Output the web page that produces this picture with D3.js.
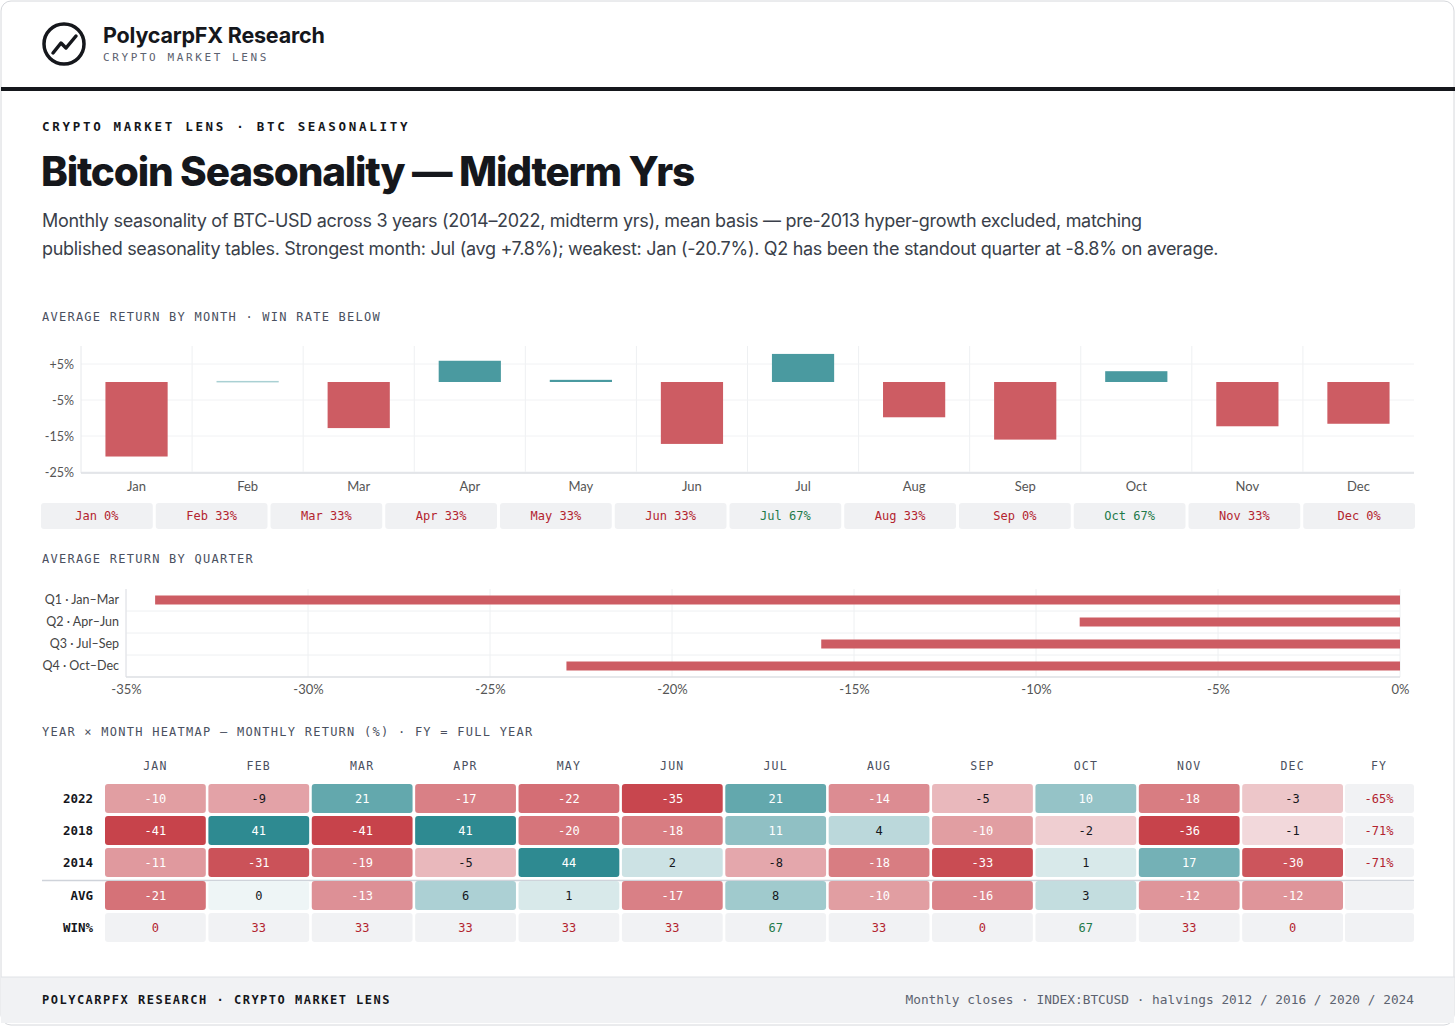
<!DOCTYPE html>
<html><head><meta charset="utf-8">
<script src="https://cdn.jsdelivr.net/npm/d3@7/dist/d3.min.js"></script>
<style>
body{margin:0;background:#fff;font-family:Inter,"Noto Sans",sans-serif;}
svg{display:block}
</style></head><body>
<svg id="c" width="1456" height="1028"></svg>
<script>
const months=["Jan","Feb","Mar","Apr","May","Jun","Jul","Aug","Sep","Oct","Nov","Dec"];
const avgReturn=[-20.7,0.3,-12.8,5.9,0.6,-17.2,7.8,-9.8,-16.0,3.0,-12.3,-11.6];
const winRate=[0,33,33,33,33,33,67,33,0,67,33,0];
const quarters=["Q1 · Jan–Mar","Q2 · Apr–Jun","Q3 · Jul–Sep","Q4 · Oct–Dec"];
const quarterReturn=[-34.2,-8.8,-15.9,-22.9];
const years=["2022","2018","2014"];
const heat2022=[-10,-9,21,-17,-22,-35,21,-14,-5,10,-18,-3];
const heat2018=[-41,41,-41,41,-20,-18,11,4,-10,-2,-36,-1];
const heat2014=[-11,-31,-19,-5,44,2,-8,-18,-33,1,17,-30];
const heatAvg=[-21,0,-13,6,1,-17,8,-10,-16,3,-12,-12];
const fullYear=["-65%","-71%","-71%"];
const yTicks=[5,-5,-15,-25];
const qTicks=[-35,-30,-25,-20,-15,-10,-5,0];

const svg=d3.select("#c");
const MONO='"DejaVu Sans Mono","Liberation Mono",monospace';
const RED="#cd5c63",TEAL="#4a9aa0";
svg.append("rect").attr("x",1).attr("y",1).attr("width",1453).attr("height",1024).attr("rx",10).attr("fill","#fff").attr("stroke","#d6d8dc");
svg.append("rect").attr("x",1).attr("y",977).attr("width",1453).attr("height",46).attr("fill","#f1f2f4");
svg.append("line").attr("x1",1).attr("x2",1455).attr("y1",977).attr("y2",977).attr("stroke","#e0e2e6");
svg.append("rect").attr("x",1).attr("y",87).attr("width",1454).attr("height",4).attr("fill","#15171c");
svg.append("circle").attr("cx",64).attr("cy",44).attr("r",20).attr("fill","none").attr("stroke","#15171c").attr("stroke-width",3.5);
svg.append("path").attr("d","M53,53 L61,43 L66,48 L76,36").attr("fill","none").attr("stroke","#15171c").attr("stroke-width",3.5).attr("stroke-linejoin","round").attr("stroke-linecap","round");
svg.append("text").attr("x",103).attr("y",43).attr("font-size",21.5).attr("font-weight",700).attr("fill","#15171c").attr("letter-spacing",-0.2).text("PolycarpFX Research");
svg.append("text").attr("x",103).attr("y",61).attr("font-family",MONO).attr("font-size",11).attr("letter-spacing",2.6).attr("fill","#5c6270").text("CRYPTO MARKET LENS");
svg.append("text").attr("x",42).attr("y",131).attr("font-family",MONO).attr("font-size",12.5).attr("font-weight",700).attr("letter-spacing",2.7).attr("fill","#15171c").text("CRYPTO MARKET LENS · BTC SEASONALITY");
svg.append("text").attr("x",41).attr("y",186).attr("font-size",40.5).attr("font-weight",800).attr("letter-spacing",-1.2).attr("fill","#15171c").text("Bitcoin Seasonality — Midterm Yrs");
svg.append("text").attr("x",42).attr("y",227).attr("font-size",18).attr("letter-spacing",-0.3).attr("fill","#3a3f4a").text("Monthly seasonality of BTC-USD across 3 years (2014–2022, midterm yrs), mean basis — pre-2013 hyper-growth excluded, matching");
svg.append("text").attr("x",42).attr("y",255).attr("font-size",18).attr("letter-spacing",-0.3).attr("fill","#3a3f4a").text("published seasonality tables. Strongest month: Jul (avg +7.8%); weakest: Jan (-20.7%). Q2 has been the standout quarter at -8.8% on average.");
function sec(y,t){svg.append("text").attr("x",42).attr("y",y).attr("font-family",MONO).attr("font-size",12).attr("letter-spacing",1.25).attr("fill","#4a5060").text(t);}
sec(321,"AVERAGE RETURN BY MONTH · WIN RATE BELOW");
sec(563,"AVERAGE RETURN BY QUARTER");
sec(736,"YEAR × MONTH HEATMAP — MONTHLY RETURN (%) · FY = FULL YEAR");

const x=d3.scaleBand().domain(months).range([81,1414]).paddingInner(0.44).paddingOuter(0.22);
const xc=d3.scaleBand().domain(months).range([81,1414]);
const y=d3.scaleLinear().domain([-25,10]).range([472,346]);
const g=svg.append("g");
months.forEach((m,i)=>{ if(i>0) g.append("line").attr("x1",xc(m)).attr("x2",xc(m)).attr("y1",346).attr("y2",472).attr("stroke","#eef0f2");});
yTicks.forEach(t=>g.append("line").attr("x1",81).attr("x2",1414).attr("y1",y(t)).attr("y2",y(t)).attr("stroke","#f1f2f4"));
g.append("line").attr("x1",81).attr("x2",81).attr("y1",346).attr("y2",473).attr("stroke","#e6e8eb");
g.append("line").attr("x1",81).attr("x2",1414).attr("y1",473).attr("y2",473).attr("stroke","#dcdfe3").attr("stroke-width",1.5);
g.selectAll("rect.b").data(months).join("rect").attr("x",m=>x(m)).attr("width",x.bandwidth())
 .attr("y",(m,i)=>Math.min(y(0),y(avgReturn[i]))).attr("height",(m,i)=>Math.max(1.5,Math.abs(y(avgReturn[i])-y(0))))
 .attr("fill",(m,i)=>avgReturn[i]>=0?(avgReturn[i]<0.5?"#a9d0d3":TEAL):RED);
const yAx=g.append("g").attr("transform","translate(77,0)").call(d3.axisLeft(y).tickValues(yTicks).tickSize(0).tickFormat(d=>(d>0?"+":"")+d+"%"));
yAx.select(".domain").remove();
yAx.selectAll("text").attr("font-family","Lato,Inter,sans-serif").attr("font-size",12.5).attr("fill","#555");
const xAx=g.append("g").attr("transform","translate(0,477)").call(d3.axisBottom(xc).tickSize(0));
xAx.select(".domain").remove();
xAx.selectAll("text").attr("font-family","Lato,Inter,sans-serif").attr("font-size",13).attr("fill","#555").attr("dy","0.85em");
const xp=d3.scaleBand().domain(months).range([41,1415]).paddingInner(0.026);
months.forEach((m,i)=>{
 svg.append("rect").attr("x",xp(m)).attr("y",503).attr("width",xp.bandwidth()).attr("height",26).attr("rx",3).attr("fill","#f0f1f3");
 svg.append("text").attr("x",xp(m)+xp.bandwidth()/2).attr("y",520).attr("text-anchor","middle").attr("font-family",MONO).attr("font-size",12)
  .attr("fill",winRate[i]>50?"#1f7a4a":"#b3242f").text(m+" "+winRate[i]+"%");
});

const xq=d3.scaleLinear().domain([-35,0]).range([126,1400]);
const yq=d3.scaleBand().domain(quarters).range([589,677]);
const gq=svg.append("g");
qTicks.forEach(t=>gq.append("line").attr("x1",xq(t)).attr("x2",xq(t)).attr("y1",589).attr("y2",677).attr("stroke","#eef0f2"));
quarters.forEach((q,i)=>{ if(i>0) gq.append("line").attr("x1",126).attr("x2",1400).attr("y1",yq(q)).attr("y2",yq(q)).attr("stroke","#eef0f2");});
gq.append("line").attr("x1",126).attr("x2",126).attr("y1",589).attr("y2",677).attr("stroke","#e0e2e6");
gq.append("line").attr("x1",126).attr("x2",1400).attr("y1",677).attr("y2",677).attr("stroke","#dcdfe3").attr("stroke-width",1.5);
gq.selectAll("rect").data(quarters).join("rect").attr("x",(q,i)=>xq(quarterReturn[i])).attr("width",(q,i)=>xq(0)-xq(quarterReturn[i]))
 .attr("y",q=>yq(q)+yq.bandwidth()/2-4.5).attr("height",9).attr("fill",RED);
const qa=gq.append("g").attr("transform","translate(122,0)").call(d3.axisLeft(yq).tickSize(0));
qa.select(".domain").remove();
qa.selectAll("text").attr("font-family","Lato,Inter,sans-serif").attr("font-size",12.5).attr("fill","#444");
const qx=gq.append("g").attr("transform","translate(0,681)").call(d3.axisBottom(xq).tickValues(qTicks).tickSize(0).tickFormat(d=>d+"%"));
qx.select(".domain").remove();
qx.selectAll("text").attr("font-family","Lato,Inter,sans-serif").attr("font-size",13).attr("fill","#555").attr("dy","0.8em");

const cols=months.map(m=>m.toUpperCase());
const xh=d3.scaleBand().domain(cols).range([105,1343]).paddingInner(0.025);
const rowsY=[784,816,848];
const posC=d3.interpolateRgb("#eef5f6","#2e8a91"),negC=d3.interpolateRgb("#f8ecee","#c7434b");
function col(v){const t=Math.min(1,Math.abs(v)/36);const tt=Math.pow(t,0.6);return v>=0?posC(tt):negC(tt);}
cols.forEach(c=>svg.append("text").attr("x",xh(c)+xh.bandwidth()/2).attr("y",770).attr("text-anchor","middle").attr("font-family",MONO).attr("font-size",11.5).attr("letter-spacing",1.2).attr("fill","#4a5060").text(c));
svg.append("text").attr("x",1379).attr("y",770).attr("text-anchor","middle").attr("font-family",MONO).attr("font-size",11.5).attr("letter-spacing",1.2).attr("fill","#4a5060").text("FY");
function rowLabel(yy,t){svg.append("text").attr("x",93).attr("y",yy+19).attr("text-anchor","end").attr("font-family",MONO).attr("font-size",12.5).attr("font-weight",700).attr("fill","#15171c").text(t);}
function cell(i,yy,v,fill,txtCol,txt){
 svg.append("rect").attr("x",xh(cols[i])).attr("y",yy).attr("width",xh.bandwidth()).attr("height",29).attr("rx",3).attr("fill",fill);
 svg.append("text").attr("x",xh(cols[i])+xh.bandwidth()/2).attr("y",yy+19).attr("text-anchor","middle").attr("font-family",MONO).attr("font-size",12).attr("fill",txtCol).text(txt);
}
[heat2022,heat2018,heat2014].forEach((arr,r)=>{
 rowLabel(rowsY[r],years[r]);
 arr.forEach((v,i)=>cell(i,rowsY[r],v,col(v),Math.abs(v)>=10?"#fff":"#15171c",v));
 svg.append("rect").attr("x",1345).attr("y",rowsY[r]).attr("width",69).attr("height",29).attr("rx",3).attr("fill","#f1f2f4");
 svg.append("text").attr("x",1379).attr("y",rowsY[r]+19).attr("text-anchor","middle").attr("font-family",MONO).attr("font-size",12).attr("fill","#b3242f").text(fullYear[r]);
});
svg.append("line").attr("x1",42).attr("x2",1414).attr("y1",880.5).attr("y2",880.5).attr("stroke","#cfd3da").attr("stroke-width",1.5);
rowLabel(881,"AVG");
heatAvg.forEach((v,i)=>cell(i,881,v,col(v),Math.abs(v)>=10?"#fff":"#15171c",v));
svg.append("rect").attr("x",1345).attr("y",881).attr("width",69).attr("height",29).attr("rx",3).attr("fill","#f1f2f4");
rowLabel(913,"WIN%");
winRate.forEach((v,i)=>cell(i,913,v,"#f1f2f4",v>50?"#1f7a4a":"#b3242f",v));
svg.append("rect").attr("x",1345).attr("y",913).attr("width",69).attr("height",29).attr("rx",3).attr("fill","#f1f2f4");

svg.append("text").attr("x",42).attr("y",1004).attr("font-family",MONO).attr("font-size",12).attr("font-weight",700).attr("letter-spacing",1.5).attr("fill","#15171c").text("POLYCARPFX RESEARCH · CRYPTO MARKET LENS");
svg.append("text").attr("x",1414).attr("y",1004).attr("text-anchor","end").attr("font-family",MONO).attr("font-size",12.8).attr("fill","#5c6270").text("Monthly closes · INDEX:BTCUSD · halvings 2012 / 2016 / 2020 / 2024");
</script></body></html>
